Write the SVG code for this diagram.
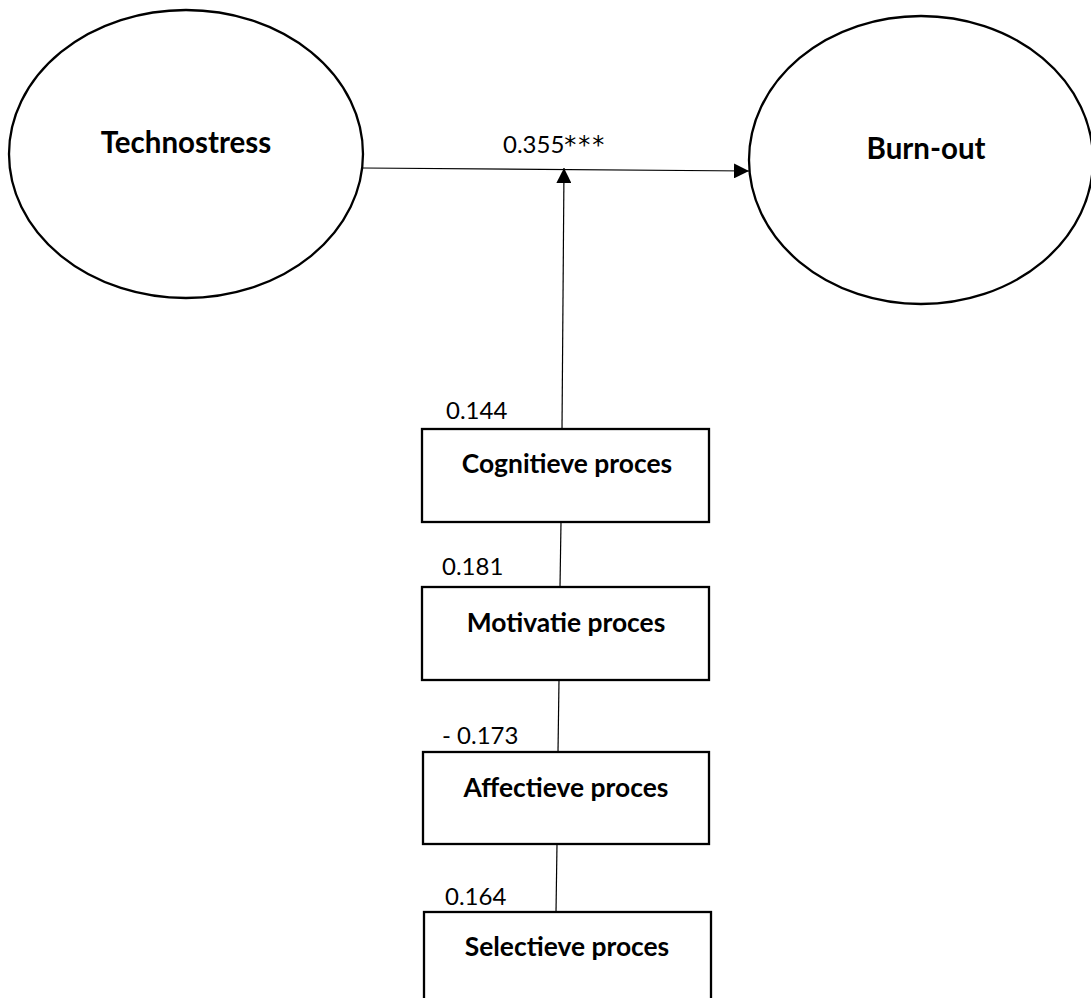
<svg xmlns="http://www.w3.org/2000/svg" width="1091" height="998" viewBox="0 0 1091 998">
<style>
.node{fill:#fff;stroke:#000;stroke-width:2.3}
.t{font-family:Lato,"Liberation Sans",sans-serif;font-weight:bold;font-size:29.5px;fill:#000;text-anchor:middle}
.b{font-family:Lato,"Liberation Sans",sans-serif;font-weight:bold;font-size:26.4px;fill:#000;text-anchor:middle}
.l{font-family:Lato,"Liberation Sans",sans-serif;font-size:24px;fill:#000}
.ast{font-family:"DejaVu Sans",sans-serif;font-size:24px;letter-spacing:2px}
.c{stroke:#000;stroke-width:1.2;fill:none}
</style>
<defs>
<marker id="ah" viewBox="0 0 10 10" refX="10" refY="5" markerWidth="15" markerHeight="15" markerUnits="userSpaceOnUse" orient="auto">
<path d="M0,0 L10,5 L0,10 Z" fill="#000"/>
</marker>
</defs>
<g id="technostress"><ellipse class="node" cx="186" cy="154" rx="177" ry="144"/><text class="t" x="186" y="153">Technostress</text></g>
<g id="burnout"><ellipse class="node" cx="921" cy="160" rx="172" ry="144"/><text class="t" x="926" y="159">Burn-out</text></g>
<g id="cognitieve"><rect class="node" x="422" y="429" width="287" height="93"/><text class="b" x="567" y="473">Cognitieve proces</text></g>
<g id="motivatie"><rect class="node" x="422" y="587" width="287" height="93"/><text class="b" x="566" y="632">Motivatie proces</text></g>
<g id="affectieve"><rect class="node" x="423" y="752" width="286" height="92"/><text class="b" x="566" y="797">Affectieve proces</text></g>
<g id="selectieve"><rect class="node" x="424" y="912" width="287" height="100"/><text class="b" x="567" y="956">Selectieve proces</text></g>
<g id="connectors">
<line class="c" x1="363" y1="168" x2="749" y2="171" marker-end="url(#ah)"/>
<line class="c" x1="562" y1="429" x2="564" y2="168" marker-end="url(#ah)"/>
<line class="c" x1="561" y1="522" x2="560" y2="587"/>
<line class="c" x1="559" y1="680" x2="558" y2="752"/>
<line class="c" x1="557" y1="844" x2="556" y2="912"/>
</g>
<g id="labels">
<text class="l" x="503" y="153">0.355<tspan class="ast">***</tspan></text>
<text class="l" x="446" y="419">0.144</text>
<text class="l" x="442" y="575">0.181</text>
<text class="l" x="442" y="744">- 0.173</text>
<text class="l" x="445" y="905">0.164</text>
</g>
</svg>
